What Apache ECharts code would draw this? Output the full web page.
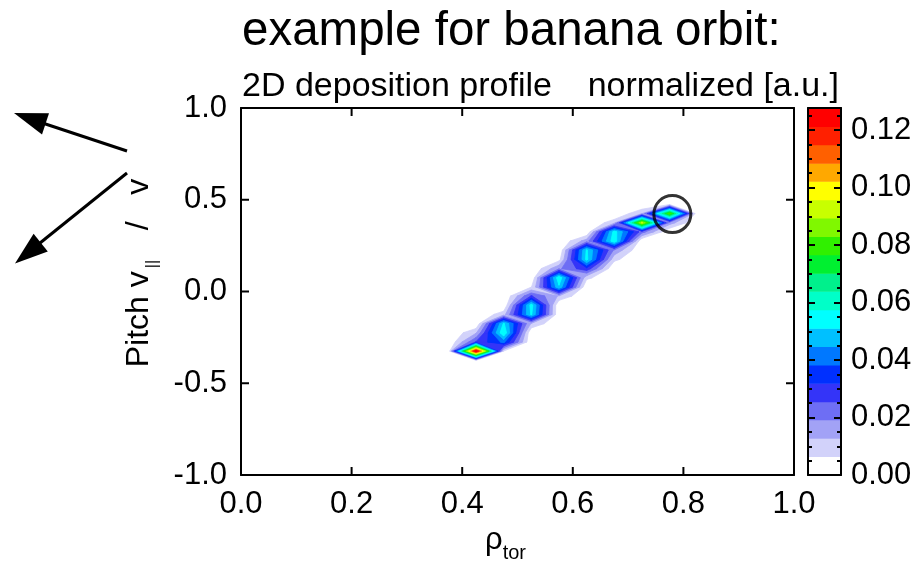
<!DOCTYPE html>
<html><head><meta charset="utf-8">
<script src="https://cdn.jsdelivr.net/npm/echarts@6/dist/echarts.min.js"></script>
<style>html,body{margin:0;padding:0;background:#fff}#c{width:919px;height:563px}</style>
</head><body><div id="c"></div>
<script>
// ---- grid nodes of the deposition profile ----
const rhoNodes = [0.325,0.375,0.425,0.475,0.525,0.575,0.625,0.675,0.725,0.775,0.825,0.875];
const pitchNodes = [-0.475,-0.425,-0.375,-0.325,-0.275,-0.225,-0.175,-0.125,-0.075,-0.025,0.025,0.075,0.125,0.175,0.225,0.275,0.325,0.375,0.425,0.475,0.525,0.575];
// ---- non-zero samples (rho, pitch, value) ----
const ptRho   = [0.425,0.425,0.425,0.425, 0.475,0.475,0.475,0.475,0.475, 0.525,0.525,0.525,0.525,0.525, 0.575,0.575,0.575,0.575,0.575, 0.625,0.625,0.625,0.625,0.625, 0.675,0.675,0.675,0.675,0.675, 0.725,0.725,0.725, 0.775,0.775,0.775];
const ptPitch = [-0.375,-0.325,-0.275,-0.225, -0.325,-0.275,-0.225,-0.175,-0.125, -0.175,-0.125,-0.075,-0.025,0.025, -0.025,0.025,0.075,0.125,0.175, 0.075,0.125,0.175,0.225,0.275, 0.175,0.225,0.275,0.325,0.375, 0.325,0.375,0.425, 0.375,0.425,0.475];
const ptValue = [0.006,0.127,0.026,0.012, 0.006,0.040,0.057,0.052,0.010, 0.012,0.052,0.054,0.026,0.006, 0.012,0.050,0.056,0.018,0.004, 0.008,0.030,0.053,0.052,0.016, 0.008,0.018,0.056,0.054,0.010, 0.022,0.092,0.012, 0.016,0.082,0.005];
// ---- contour levels and colours (colour bar) ----
const levels = [0,0.0064,0.0128,0.0192,0.0255,0.0319,0.0383,0.0447,0.0511,0.0575,0.0639,0.0702,0.0766,0.0830,0.0894,0.0958,0.1022,0.1085,0.1149,0.1213,0.1277];
const bandColors = ['#ffffff','#d2d2fa','#a2a2f6','#6e6ef4','#3434f8','#0030ff','#0078ff','#00c0ff','#00ffff','#00ffc8','#00f08c','#00f030','#30f000','#80f800','#c8ff00','#ffff00','#ffa800','#ff6000','#ff2000','#ff0000'];
const xTicks = [0,0.2,0.4,0.6,0.8,1.0];
const yTicks = [-1,-0.5,0,0.5,1];
const cbTicks = [0,0.02,0.04,0.06,0.08,0.10,0.12];
// ---- marked point (circle) ----
const circleRho = [0.780];
const circlePitch = [0.422];

// build full grid
const nx = rhoNodes.length, ny = pitchNodes.length;
const grid = [];
for (let j = 0; j < ny; j++) { grid.push(new Array(nx).fill(0)); }
const idx = (arr, v) => arr.findIndex(a => Math.abs(a - v) < 1e-6);
for (let k = 0; k < ptValue.length; k++) {
  grid[idx(pitchNodes, ptPitch[k])][idx(rhoNodes, ptRho[k])] = ptValue[k];
}
const cells = [];
for (let j = 0; j < ny - 1; j++) for (let i = 0; i < nx - 1; i++) {
  const m = Math.max(grid[j][i], grid[j][i+1], grid[j+1][i], grid[j+1][i+1]);
  if (m > levels[1]) cells.push([rhoNodes[i], pitchNodes[j], i, j]);
}

// filled region of one marching-squares cell at level L (saddles kept separated)
function cellPolys(P, V, L) {
  const above = V.map(v => v >= L);
  const n = above.filter(Boolean).length;
  if (n === 0) return [];
  const cross = (a, b) => {
    const t = (L - V[a]) / (V[b] - V[a]);
    return [P[a][0] + t * (P[b][0] - P[a][0]), P[a][1] + t * (P[b][1] - P[a][1])];
  };
  if (n === 2 && above[0] === above[2]) {
    const polys = [];
    for (const c of (above[0] ? [0, 2] : [1, 3])) {
      const prev = (c + 3) % 4, next = (c + 1) % 4;
      polys.push([P[c], cross(c, next), cross(prev, c)]);
    }
    return polys;
  }
  const pts = [];
  for (let e = 0; e < 4; e++) {
    const a = e, b = (e + 1) % 4;
    if (above[a]) pts.push(P[a]);
    if (above[a] !== above[b]) pts.push(cross(a, b));
  }
  return [pts];
}

function renderContourCell(params, api) {
  const i = api.value(2), j = api.value(3);
  const P = [[rhoNodes[i], pitchNodes[j]], [rhoNodes[i+1], pitchNodes[j]], [rhoNodes[i+1], pitchNodes[j+1]], [rhoNodes[i], pitchNodes[j+1]]];
  const V = [grid[j][i], grid[j][i+1], grid[j+1][i+1], grid[j+1][i]];
  const children = [];
  for (let k = 1; k < levels.length - 1; k++) {
    for (const poly of cellPolys(P, V, levels[k])) {
      if (poly.length < 3) continue;
      children.push({type: 'polygon', z2: k, shape: {points: poly.map(p => api.coord(p))},
        style: {fill: bandColors[k], stroke: bandColors[k], lineWidth: 0.8}});
    }
  }
  return {type: 'group', children};
}

const cbData = [];
for (let k = 0; k < bandColors.length; k++) cbData.push([levels[k], levels[k+1], k]);
function renderBand(params, api) {
  const k = api.value(2);
  const p0 = api.coord([0, api.value(0)]);
  const p1 = api.coord([1, api.value(1)]);
  return {type: 'rect', shape: {x: p0[0], y: p1[1], width: p1[0] - p0[0], height: p0[1] - p1[1] + 0.5}, style: {fill: bandColors[k]}};
}

// inward tick marks on all four sides of the plot frame, placed through the axes' scales
const TICK_LEN = 8;
const tickStyle = {stroke: '#000', lineWidth: 2};
function renderXTick(params, api) {
  const v = api.value(0);
  const b = api.coord([v, yTicks[0]]), t = api.coord([v, yTicks[yTicks.length - 1]]);
  return {type: 'group', children: [
    {type: 'line', shape: {x1: b[0], y1: b[1], x2: b[0], y2: b[1] - TICK_LEN}, style: tickStyle},
    {type: 'line', shape: {x1: t[0], y1: t[1], x2: t[0], y2: t[1] + TICK_LEN}, style: tickStyle}
  ]};
}
function renderYTick(params, api) {
  const v = api.value(1);
  const l = api.coord([xTicks[0], v]), r = api.coord([xTicks[xTicks.length - 1], v]);
  return {type: 'group', children: [
    {type: 'line', shape: {x1: l[0], y1: l[1], x2: l[0] + TICK_LEN, y2: l[1]}, style: tickStyle},
    {type: 'line', shape: {x1: r[0], y1: r[1], x2: r[0] - TICK_LEN, y2: r[1]}, style: tickStyle}
  ]};
}

const FONT = 'Liberation Sans';
const black = '#000';
const line = () => ({show: true, onZero: false, lineStyle: {color: black, width: 2}});
const noTick = () => ({show: false});
const noLbl = () => ({show: false});
const lbl = () => ({color: black, fontSize: 31, fontFamily: FONT});
const noSplit = () => ({show: false});
const cbTick = () => ({show: true, inside: true, length: 7, lineStyle: {color: black, width: 2}});
const cbMinor = () => ({show: true, splitNumber: 4, length: 4, lineStyle: {color: black, width: 2}});

const xMain = {min: xTicks[0], max: xTicks[xTicks.length - 1], interval: 0.2};
const yMain = {min: yTicks[0], max: yTicks[yTicks.length - 1], interval: 0.5};
const yCb = {min: levels[0], max: levels[levels.length - 1], interval: 0.02};

const chart = echarts.init(document.getElementById('c'));
chart.setOption({
  animation: false,
  backgroundColor: '#fff',
  textStyle: {fontFamily: FONT},
  title: [
    {text: 'example for banana orbit:', left: 242, top: 8, padding: 0, textStyle: {fontSize: 47.5, fontWeight: 'normal', color: black, fontFamily: FONT}},
    {text: '2D deposition profile', left: 242, top: 70, padding: 0, textStyle: {fontSize: 34, fontWeight: 'normal', color: black, fontFamily: FONT}},
    {text: 'normalized [a.u.]', right: 80, top: 70, padding: 0, textStyle: {fontSize: 34, fontWeight: 'normal', color: black, fontFamily: FONT}}
  ],
  grid: [
    {left: 241, right: 125, top: 108, bottom: 88, outerBoundsMode: 'none', containLabel: false},
    {left: 808, right: 78, top: 108, bottom: 88, outerBoundsMode: 'none', containLabel: false}
  ],
  xAxis: [
    Object.assign({gridIndex: 0, type: 'value', position: 'bottom', z: 10,
     axisLine: line(), axisTick: noTick(), splitLine: noSplit(),
     axisLabel: Object.assign({margin: 14, formatter: v => v.toFixed(1)}, lbl()),
     name: 'ρ{sub|tor}', nameLocation: 'middle', nameGap: 44,
     nameTextStyle: {color: black, fontSize: 31, fontFamily: FONT, padding: [0, 24, 0, 0], rich: {sub: {fontSize: 20, color: black, fontFamily: FONT, verticalAlign: 'bottom', padding: [0,0,-8,0]}}}}, xMain),
    Object.assign({gridIndex: 0, type: 'value', position: 'top', z: 10,
     axisLine: line(), axisTick: noTick(), axisLabel: noLbl(), splitLine: noSplit()}, xMain),
    {gridIndex: 1, type: 'value', position: 'bottom', z: 10, min: 0, max: 1,
     axisLine: line(), axisTick: noTick(), axisLabel: noLbl(), splitLine: noSplit()},
    {gridIndex: 1, type: 'value', position: 'top', z: 10, min: 0, max: 1,
     axisLine: line(), axisTick: noTick(), axisLabel: noLbl(), splitLine: noSplit()}
  ],
  yAxis: [
    Object.assign({gridIndex: 0, type: 'value', position: 'left', z: 10,
     axisLine: line(), axisTick: noTick(), splitLine: noSplit(),
     axisLabel: Object.assign({margin: 14, formatter: v => v.toFixed(1)}, lbl()),
     name: 'Pitch v{sub|||}   /   v', nameLocation: 'middle', nameGap: 86, nameRotate: 90,
     nameTextStyle: {color: black, fontSize: 32, fontFamily: FONT, padding: [0, 0, 0, 37], rich: {sub: {fontSize: 16, color: black, fontFamily: FONT, verticalAlign: 'bottom', padding: [0,3,-6,3]}}}}, yMain),
    Object.assign({gridIndex: 0, type: 'value', position: 'right', z: 10,
     axisLine: line(), axisTick: noTick(), axisLabel: noLbl(), splitLine: noSplit()}, yMain),
    Object.assign({gridIndex: 1, type: 'value', position: 'right', z: 10,
     axisLine: line(), axisTick: cbTick(), minorTick: cbMinor(), splitLine: noSplit(), minorSplitLine: noSplit(),
     axisLabel: Object.assign({margin: 10, showMaxLabel: false, formatter: v => (cbTicks.some(t => Math.abs(t - v) < 1e-6) ? v.toFixed(2) : '')}, lbl())}, yCb),
    Object.assign({gridIndex: 1, type: 'value', position: 'left', z: 10,
     axisLine: line(), axisTick: cbTick(), minorTick: cbMinor(), axisLabel: noLbl(), splitLine: noSplit(), minorSplitLine: noSplit()}, yCb)
  ],
  series: [
    {type: 'custom', xAxisIndex: 0, yAxisIndex: 0, data: cells, encode: {x: 0, y: 1}, renderItem: renderContourCell, silent: true, z: 2},
    {type: 'scatter', xAxisIndex: 0, yAxisIndex: 0, data: circleRho.map((r, i) => [r, circlePitch[i]]), symbol: 'circle', symbolSize: 37,
     itemStyle: {color: 'rgba(0,0,0,0)', borderColor: black, borderWidth: 3}, silent: true, z: 5},
    {type: 'custom', xAxisIndex: 0, yAxisIndex: 0, data: xTicks.map(v => [v, 0]), encode: {x: 0, y: 1}, renderItem: renderXTick, silent: true, z: 8},
    {type: 'custom', xAxisIndex: 0, yAxisIndex: 0, data: yTicks.map(v => [0, v]), encode: {x: 0, y: 1}, renderItem: renderYTick, silent: true, z: 8},
    {type: 'custom', xAxisIndex: 2, yAxisIndex: 2, data: cbData, encode: {x: 2, y: [0, 1]}, renderItem: renderBand, silent: true, z: 1}
  ],
  graphic: [
    {type: 'line', shape: {x1: 127, y1: 151, x2: 44, y2: 123.5}, style: {stroke: black, lineWidth: 3}},
    {type: 'polygon', shape: {points: [[14, 113], [49, 113.2], [42, 134.4]]}, style: {fill: black}},
    {type: 'line', shape: {x1: 127, y1: 173, x2: 40, y2: 243}, style: {stroke: black, lineWidth: 3}},
    {type: 'polygon', shape: {points: [[15, 263.5], [33.6, 233.8], [47.8, 251.4]]}, style: {fill: black}}
  ]
});
</script></body></html>
